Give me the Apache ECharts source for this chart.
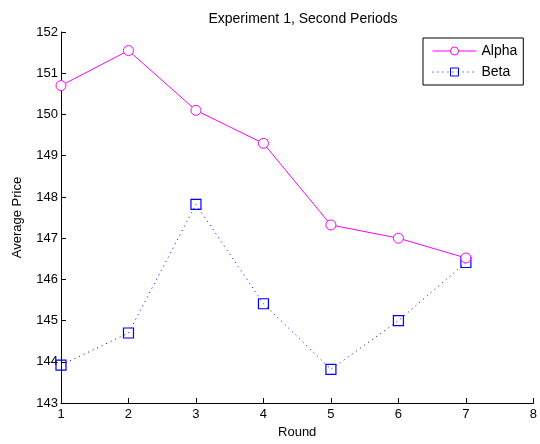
<!DOCTYPE html>
<html><head><meta charset="utf-8">
<script src="https://cdn.jsdelivr.net/npm/echarts@6/dist/echarts.min.js"></script>
<style>html,body{margin:0;padding:0;background:#fff}#c{width:540px;height:444px}</style>
</head><body><div id="c"></div>
<script>
var rounds = [1, 2, 3, 4, 5, 6, 7];
var alpha = [150.7, 151.55, 150.1, 149.3, 147.32, 147.0, 146.52];
var beta = [143.92, 144.7, 147.82, 145.41, 143.82, 145.0, 146.41];
var seriesNames = ['Alpha', 'Beta'];
var titleText = 'Experiment 1, Second Periods';
var xName = 'Round', yName = 'Average Price';

function pairs(xs, ys){ return xs.map(function(x,i){ return [x, ys[i]]; }); }
var font = 'Liberation Sans, Arial, Helvetica, sans-serif';
var chart = echarts.init(document.getElementById('c'), null, {renderer:'canvas'});
chart.setOption({
  animation:false,
  backgroundColor:'#fff',
  title:{text:titleText, left:298, top:7, textAlign:'center',
    textStyle:{fontFamily:font, fontSize:14, fontWeight:'normal', color:'#000'}},
  grid:{left:61, right:5, top:32, bottom:39, containLabel:false},
  xAxis:{type:'value', min:1, max:8, interval:1, name:xName, nameLocation:'middle', nameGap:22,
    nameTextStyle:{fontFamily:font, fontSize:13, color:'#000'},
    axisLine:{lineStyle:{color:'#000', width:1}},
    axisTick:{inside:true, length:5, lineStyle:{color:'#000'}},
    axisLabel:{fontFamily:font, fontSize:13, color:'#000', margin:5},
    splitLine:{show:false}},
  yAxis:{type:'value', min:143, max:152, interval:1, name:yName, nameLocation:'middle', nameGap:37,
    nameTextStyle:{fontFamily:font, fontSize:13, color:'#000'},
    axisLine:{lineStyle:{color:'#000', width:1}},
    axisTick:{inside:true, length:5, lineStyle:{color:'#000'}},
    axisLabel:{fontFamily:font, fontSize:13, color:'#000', margin:3},
    splitLine:{show:false}},
  legend:{left:423, top:38, orient:'vertical', itemWidth:44, itemHeight:10, itemGap:7,
    padding:[6,6,6,9], borderColor:'#000', borderWidth:1, backgroundColor:'#fff',
    textStyle:{fontFamily:font, fontSize:14, color:'#000'},
    itemStyle:{borderWidth:1},
    lineStyle:{width:1},
    data:seriesNames},
  series:[
    {name:seriesNames[0], type:'line', data:pairs(rounds, alpha), symbol:'circle', symbolSize:10,
      itemStyle:{color:'#fff', borderColor:'#ff00ff', borderWidth:1},
      lineStyle:{color:'#ff00ff', width:1}, z:3},
    {name:seriesNames[1], type:'line', data:pairs(rounds, beta), symbol:'rect', symbolSize:10,
      itemStyle:{color:'rgba(0,0,0,0)', borderColor:'#0000ff', borderWidth:1.2},
      lineStyle:{color:'#0000ff', width:1, type:[1,4]}, z:2}
  ]
});
</script></body></html>
